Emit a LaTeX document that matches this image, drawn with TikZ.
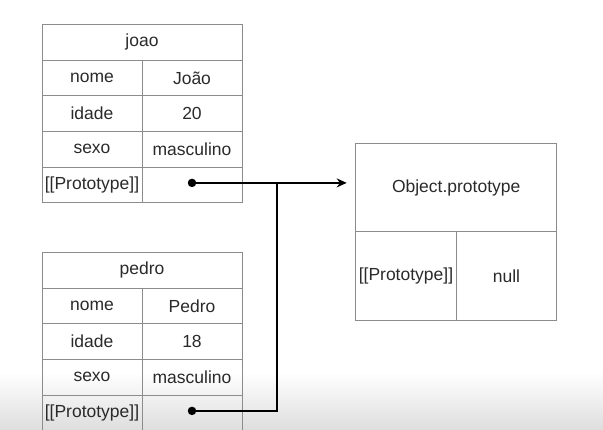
\documentclass[tikz,border=0pt]{standalone}
\usepackage{fontspec}
\setmainfont{Liberation Sans}
\usepackage{tikz}
\usetikzlibrary{arrows.meta, calc, positioning}
\definecolor{gridgray}{HTML}{8C8C8C}
\definecolor{textgray}{HTML}{2A2A2A}
\tikzstyle{head} = [draw=gridgray, line width=0.8pt, minimum width=200pt, minimum height=36pt, inner sep=0pt, outer sep=0pt, text=textgray]
\tikzstyle{cell} = [draw=gridgray, line width=0.8pt, minimum width=100pt, minimum height=35.6pt, inner sep=0pt, outer sep=0pt, text=textgray]
\tikzstyle{dot} = [circle, fill=black, minimum size=8.5pt, inner sep=0pt]
\tikzstyle{link} = [line width=2pt, black]
\tikzstyle{arrow} = [link, -{Stealth[length=10pt, width=9pt]}]

\begin{document}
\begin{tikzpicture}[node distance = 0pt, font=\fontsize{17.5}{20}\selectfont]
	\useasboundingbox (0,0) rectangle (603pt,-430pt);
	\shade [top color=white, bottom color=black!13] (0,-372pt) rectangle (603pt,-430pt);
	% joao
	\node (joao) [head] at (142pt,-42.3pt) {joao};
	\node (jnome) [cell, below right=of joao.south west] {nome};
	\node (jnomev) [cell, right=of jnome] {João};
	\node (jidade) [cell, below=of jnome] {idade};
	\node (jidadev) [cell, right=of jidade] {20};
	\node (jsexo) [cell, below=of jidade] {sexo};
	\node (jsexov) [cell, right=of jsexo] {masculino};
	\node (jproto) [cell, below=of jsexo] {[[Prototype]]};
	\node (jprotov) [cell, right=of jproto] {};
	\node (jdot) [dot] at ($(jprotov.center)+(0,2pt)$) {};
	% pedro
	\node (pedro) [head] at (142pt,-270.3pt) {pedro};
	\node (pnome) [cell, below right=of pedro.south west] {nome};
	\node (pnomev) [cell, right=of pnome] {Pedro};
	\node (pidade) [cell, below=of pnome] {idade};
	\node (pidadev) [cell, right=of pidade] {18};
	\node (psexo) [cell, below=of pidade] {sexo};
	\node (psexov) [cell, right=of psexo] {masculino};
	\node (pproto) [cell, below=of psexo] {[[Prototype]]};
	\node (pprotov) [cell, right=of pproto] {};
	\node (pdot) [dot] at ($(pprotov.center)+(0,2pt)$) {};
	% Object.prototype
	\node (obj) [head, minimum width=201pt, minimum height=88.5pt] at (456.2pt,-187.5pt) {Object.prototype};
	\node (oproto) [cell, minimum width=100.5pt, minimum height=89pt, below right=of obj.south west] {[[Prototype]]};
	\node (onull) [cell, minimum width=100.5pt, minimum height=89pt, right=of oproto] {null};
	% links
	\coordinate (junction) at ($(jdot.center)+(85.3pt,0)$);
	\draw [arrow, shorten >=9pt] (jdot.center) -- (jdot.center -| obj.west);
	\draw [link] (pdot.center) -| (junction);
\end{tikzpicture}
\end{document}
